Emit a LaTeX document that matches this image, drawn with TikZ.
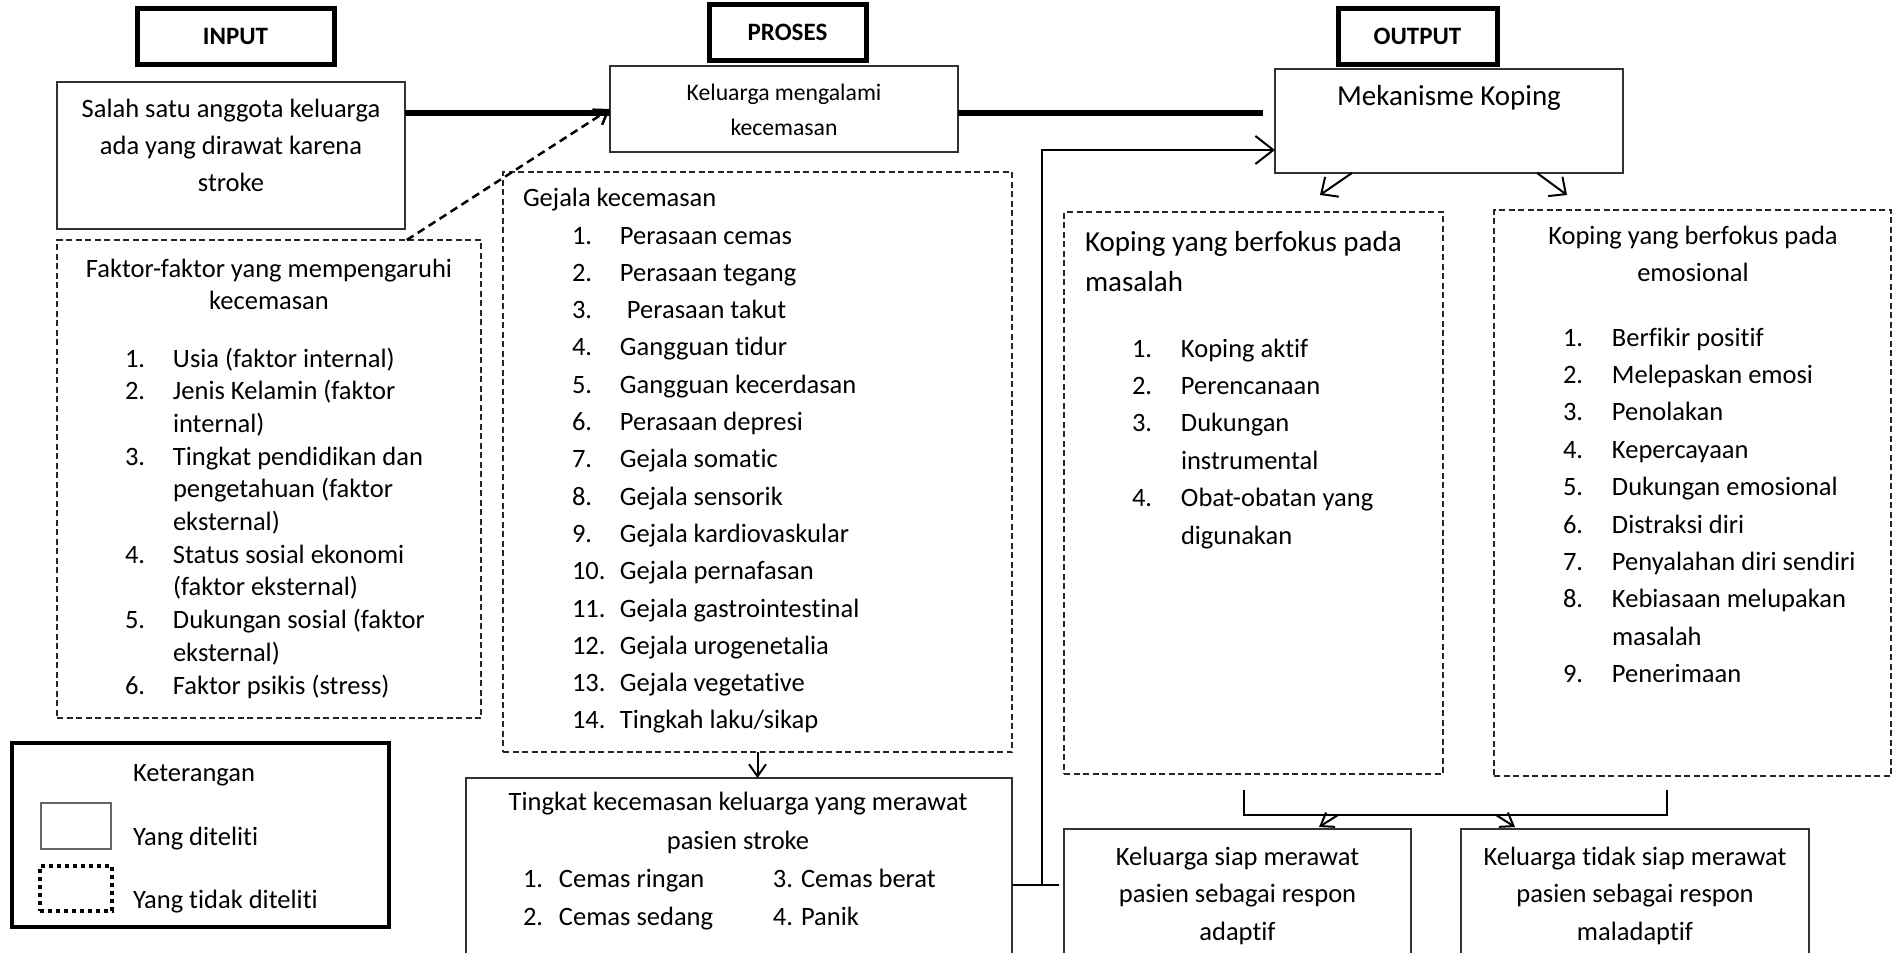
\documentclass[tikz,border=0pt]{standalone}
\usepackage{fontspec}
\setmainfont{Carlito}[Ligatures={NoCommon,NoRare,NoRequired},Contextuals=NoAlternate]
\usetikzlibrary{arrows.meta,calc}
\newcommand\numit[3][48pt]{\makebox[#1][l]{#2}#3}
\newcommand\contl[2][48pt]{\hspace*{#1}#2}
\begin{document}
\begin{tikzpicture}[x=1pt,y=-1pt,
  every node/.style={inner sep=0pt, outer sep=0pt},
  fs/.style={font=\fontsize{26.5}{37.3}\selectfont},
  solidbox/.style={draw=black!80, line width=1.5pt, anchor=north west, rectangle},
  dashbox/.style={draw=black!85, line width=1.5pt, dash pattern=on 6pt off 3.5pt, anchor=north west, rectangle},
  titlebox/.style={draw=black, line width=5pt, anchor=north west, rectangle, font=\fontsize{25}{30}\selectfont\bfseries},
  thickline/.style={line width=6pt},
  thinline/.style={line width=2pt},
  arrbig/.style={line width=2pt, -{Straight Barb[length=18pt,width=28pt,line width=2pt]}},
  arrmid/.style={line width=2pt, -{Straight Barb[length=13pt,width=24pt,line width=2pt]}},
  arrsmall/.style={line width=2pt, -{Straight Barb[length=12pt,width=17pt,line width=2pt]}},
  dasharr/.style={line width=2.5pt, dash pattern=on 8pt off 5pt, -{Straight Barb[length=13pt,width=18pt,line width=2.5pt]}},
]
\useasboundingbox (0,0) rectangle (1893,953);
\clip (0,0) rectangle (1893,953);

% title boxes
\node[titlebox, minimum width=197pt, minimum height=56pt] (tin) at (137,8) {INPUT};
\node[titlebox, minimum width=157pt, minimum height=56pt] (tpr) at (709,4) {PROSES};
\node[titlebox, minimum width=159pt, minimum height=56pt] (tout) at (1338,8) {OUTPUT};

% boxes
\node[solidbox, minimum width=348pt, minimum height=147pt] (salah) at (57,82) {};
\node[solidbox, minimum width=348pt, minimum height=86pt] (kel) at (610,66) {};
\node[solidbox, minimum width=348pt, minimum height=104pt] (mek) at (1275,69) {};
\node[dashbox, minimum width=424pt, minimum height=478pt] (faktor) at (57,240) {};
\node[dashbox, minimum width=509pt, minimum height=580pt] (gejala) at (503,172) {};
\node[dashbox, minimum width=379pt, minimum height=562pt] (masalah) at (1064,212) {};
\node[dashbox, minimum width=397pt, minimum height=566pt] (emosi) at (1494,210) {};
\node[solidbox, minimum width=546pt, minimum height=200pt] (tingkat) at (466,778) {};
\node[solidbox, minimum width=347pt, minimum height=150pt] (siap) at (1064,829) {};
\node[solidbox, minimum width=348pt, minimum height=150pt] (tidak) at (1461,829) {};

% legend
\node[draw=black, line width=4.5pt, anchor=north west, minimum width=377pt, minimum height=184pt] (leg) at (12,743) {};
\node[solidbox, draw=black!60, line width=1.2pt, minimum width=70pt, minimum height=46pt] (legs) at (41,803) {};
\node[draw=black, line width=4pt, dash pattern=on 4pt off 4pt, anchor=north west, minimum width=72pt, minimum height=45pt] (legd) at (40,866) {};
\node[fs, anchor=base west] (legt1) at (133,781) {Keterangan};
\node[fs, anchor=base west] (legt2) at (133,845) {Yang diteliti};
\node[fs, anchor=base west] (legt3) at (133,908) {Yang tidak diteliti};

% texts (anchor base = baseline of the last line)
\node[fs, anchor=base, align=center] (salaht) at (231,191.6) {Salah satu anggota keluarga\\ada yang dirawat karena\\stroke};
\node[font=\fontsize{23.7}{35}\selectfont, anchor=base, align=center] (kelt) at (784,135) {Keluarga mengalami\\kecemasan};
\node[font=\fontsize{29}{36}\selectfont, anchor=base] (mekt) at (1449,105) {Mekanisme Koping};

\node[font=\fontsize{26.5}{32.7}\selectfont, anchor=base, align=center] (faktort) at (269,309.7) {Faktor-faktor yang mempengaruhi\\kecemasan};
\node[font=\fontsize{26.5}{32.7}\selectfont, anchor=base west, align=left] (faktorl) at (125,694) {%
\numit{1.}{Usia (faktor internal)}\\
\numit{2.}{Jenis Kelamin (faktor}\\
\contl{internal)}\\
\numit{3.}{Tingkat pendidikan dan}\\
\contl{pengetahuan (faktor}\\
\contl{eksternal)}\\
\numit{4.}{Status sosial ekonomi}\\
\contl{(faktor eksternal)}\\
\numit{5.}{Dukungan sosial (faktor}\\
\contl{eksternal)}\\
\numit{6.}{Faktor psikis (stress)}};

\node[fs, anchor=base west] (gejalat) at (523,206) {Gejala kecemasan};
\node[fs, anchor=base west, align=left] (gejalal) at (572,728.9) {%
\numit{1.}{Perasaan cemas}\\
\numit{2.}{Perasaan tegang}\\
\numit{3.}{\hspace*{7pt}Perasaan takut}\\
\numit{4.}{Gangguan tidur}\\
\numit{5.}{Gangguan kecerdasan}\\
\numit{6.}{Perasaan depresi}\\
\numit{7.}{Gejala somatic}\\
\numit{8.}{Gejala sensorik}\\
\numit{9.}{Gejala kardiovaskular}\\
\numit{10.}{Gejala pernafasan}\\
\numit{11.}{Gejala gastrointestinal}\\
\numit{12.}{Gejala urogenetalia}\\
\numit{13.}{Gejala vegetative}\\
\numit{14.}{Tingkah laku/sikap}};

\node[font=\fontsize{29}{40}\selectfont, anchor=base west, align=left] (masalaht) at (1085,291) {Koping yang berfokus pada\\masalah};
\node[font=\fontsize{26.5}{37.4}\selectfont, anchor=base west, align=left] (masalahl) at (1132,544) {%
\numit[49pt]{1.}{Koping aktif}\\
\numit[49pt]{2.}{Perencanaan}\\
\numit[49pt]{3.}{Dukungan}\\
\contl[49pt]{instrumental}\\
\numit[49pt]{4.}{Obat-obatan yang}\\
\contl[49pt]{digunakan}};

\node[font=\fontsize{26.5}{37}\selectfont, anchor=base, align=center] (emosit) at (1693,281) {Koping yang berfokus pada\\emosional};
\node[font=\fontsize{26.5}{37.4}\selectfont, anchor=base west, align=left] (emosil) at (1563,682.6) {%
\numit[49pt]{1.}{Berfikir positif}\\
\numit[49pt]{2.}{Melepaskan emosi}\\
\numit[49pt]{3.}{Penolakan}\\
\numit[49pt]{4.}{Kepercayaan}\\
\numit[49pt]{5.}{Dukungan emosional}\\
\numit[49pt]{6.}{Distraksi diri}\\
\numit[49pt]{7.}{Penyalahan diri sendiri}\\
\numit[49pt]{8.}{Kebiasaan melupakan}\\
\contl[49pt]{masalah}\\
\numit[49pt]{9.}{Penerimaan}};

\node[font=\fontsize{26.5}{39}\selectfont, anchor=base, align=center] (tingkatt) at (738,849) {Tingkat kecemasan keluarga yang merawat\\pasien stroke};
\node[font=\fontsize{26.5}{38}\selectfont, anchor=base west, align=left] (tingkatl) at (523,925) {%
\numit[36pt]{1.}{\makebox[214pt][l]{Cemas ringan}3. Cemas berat}\\
\numit[36pt]{2.}{\makebox[214pt][l]{Cemas sedang}4. Panik}};

\node[font=\fontsize{26.5}{37.5}\selectfont, anchor=base, align=center] (siapt) at (1237.5,940) {Keluarga siap merawat\\pasien sebagai respon\\adaptif};
\node[font=\fontsize{26.5}{37.5}\selectfont, anchor=base, align=center] (tidakt) at (1635,940) {Keluarga tidak siap merawat\\pasien sebagai respon\\maladaptif};

% connectors
\coordinate (l1) at (0,113);
\draw[thickline] (salah.east |- l1) -- (kel.west |- l1);
\draw[thickline, shorten >=12pt] (kel.east |- l1) -- (mek.west |- l1);
\draw[dasharr] ($(faktor.north west)!0.825!(faktor.north east)$) -- (kel.west);
\draw[arrsmall] (gejala.south) -- (gejala.south |- tingkat.north);

\coordinate (jn) at (1042,885);
\coordinate (up) at (1042,150);
\draw[thinline, shorten >=5pt] (tingkat.east |- jn) -- (siap.west |- jn);
\draw[arrbig] (jn) -- (up) -- (up -| mek.west);

\coordinate (mt1) at (1320,195);
\coordinate (mt2) at (1567,195);
\draw[arrmid] ($(mek.south west)!0.221!(mek.south east)$) -- (mt1);
\draw[arrmid] ($(mek.south west)!0.753!(mek.south east)$) -- (mt2);

\coordinate (b1) at (1244,790);
\coordinate (b2) at (1244,815);
\coordinate (b3) at (1667,815);
\coordinate (b4) at (1667,790);
\draw[line width=2.5pt] (b1) -- (b2) -- (b3) -- (b4);
\coordinate (s1) at (1338,815);
\coordinate (s2) at (1496,815);
\draw[arrsmall] (s1) -- ($(siap.north west)+(255,-2)$);
\draw[arrsmall] (s2) -- ($(tidak.north west)+(54,-2)$);
\end{tikzpicture}
\end{document}
